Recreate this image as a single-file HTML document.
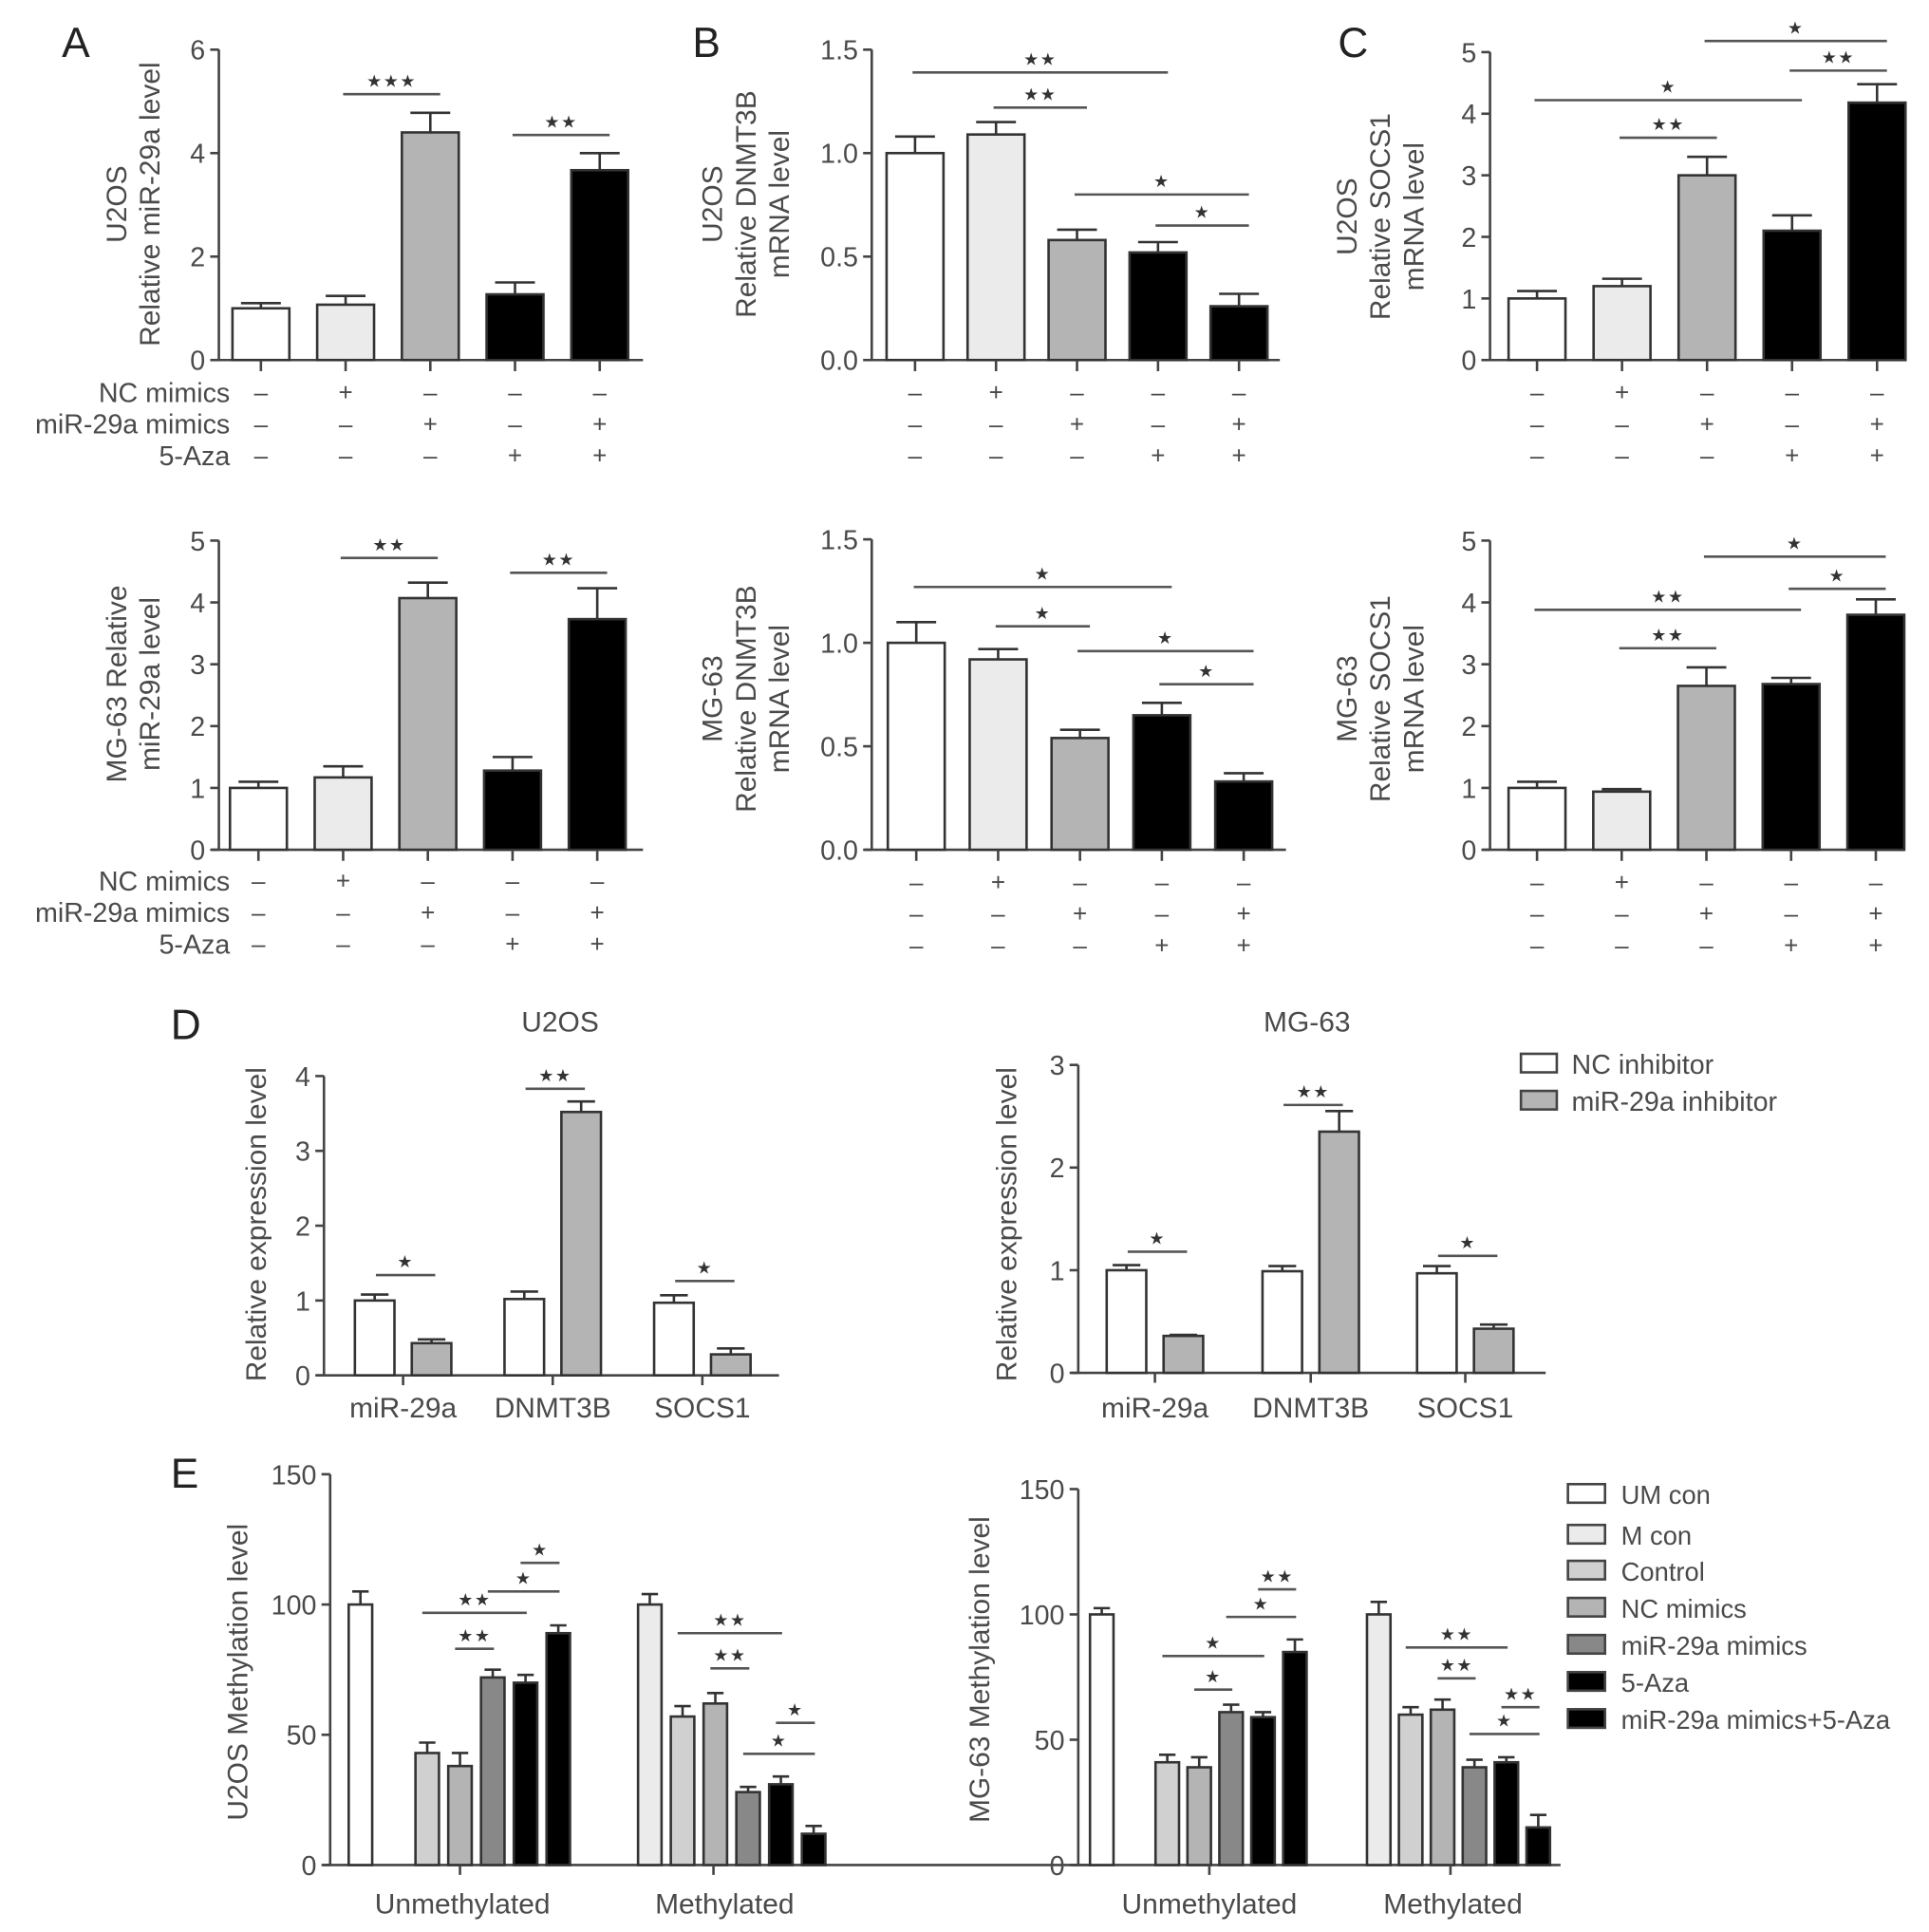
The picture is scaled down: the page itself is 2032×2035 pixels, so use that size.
<!DOCTYPE html>
<html><head><meta charset="utf-8"><style>
html,body{margin:0;padding:0;background:#fff;}
svg{display:block;}
text{font-family:"Liberation Sans",sans-serif;fill:#4a4a4a;}
</style></head>
<body>
<svg id="fig" width="2032" height="2035" viewBox="0 0 1560 1562" xmlns="http://www.w3.org/2000/svg">
<g font-size="34">
<text x="50" y="46" style="fill:#222">A</text>
<text x="560" y="46" style="fill:#222">B</text>
<text x="1082" y="46" style="fill:#222">C</text>
<text x="138" y="840" style="fill:#222">D</text>
<text x="138" y="1203" style="fill:#222">E</text>
</g>
</svg>
<script>
// ---------- DATA ----------
const aTopVals=[1.0,1.07,4.4,1.27,3.67];
const aTopErr=[0.1,0.17,0.38,0.23,0.33];
const aBotVals=[1.0,1.17,4.07,1.28,3.73];
const aBotErr=[0.1,0.18,0.25,0.22,0.5];
const bTopVals=[1.0,1.09,0.58,0.52,0.26];
const bTopErr=[0.08,0.06,0.05,0.05,0.06];
const bBotVals=[1.0,0.92,0.54,0.65,0.33];
const bBotErr=[0.1,0.05,0.04,0.06,0.04];
const cTopVals=[1.0,1.2,3.0,2.1,4.18];
const cTopErr=[0.12,0.12,0.3,0.25,0.3];
const cBotVals=[1.0,0.94,2.65,2.68,3.8];
const cBotErr=[0.1,0.04,0.3,0.1,0.25];
const rowNC="-+---", rowMiR="--+-+", rowAza="---++";
const rowLabels=["NC mimics","miR-29a mimics","5-Aza"];
const ticksA1=[0,2,4,6], ticks5=[0,1,2,3,4,5], ticks15=[0,0.5,1.0,1.5];
const sigATop=[[1,2,5.14,"***"],[3,4,4.35,"**"]];
const sigABot=[[1,2,4.72,"**"],[3,4,4.48,"**"]];
const sigBTop=[[0,3,1.39,"**"],[1,2,1.22,"**"],[2,4,0.80,"*"],[3,4,0.65,"*"]];
const sigBBot=[[0,3,1.27,"*"],[1,2,1.08,"*"],[2,4,0.96,"*"],[3,4,0.80,"*"]];
const sigCTop=[[0,3,4.22,"*"],[1,2,3.61,"**"],[2,4,5.18,"*"],[3,4,4.70,"**"]];
const sigCBot=[[0,3,3.88,"**"],[1,2,3.26,"**"],[2,4,4.74,"*"],[3,4,4.22,"*"]];
// D
const dCats=["miR-29a","DNMT3B","SOCS1"];
const dU2NC=[1.0,1.02,0.97], dU2NCerr=[0.08,0.1,0.1];
const dU2Inh=[0.43,3.52,0.28], dU2InhErr=[0.05,0.14,0.08];
const dMGNC=[1.0,0.99,0.97], dMGNCerr=[0.05,0.05,0.07];
const dMGInh=[0.36,2.35,0.43], dMGInhErr=[0.01,0.2,0.04];
const sigDU2=[1.34,3.83,1.26], sigDU2L=["*","**","*"];
const sigDMG=[1.18,2.61,1.14], sigDMGL=["*","**","*"];
const ticksD4=[0,1,2,3,4], ticksD3=[0,1,2,3];
// E
const eGroups=["Unmethylated","Methylated"];
const eU2Un=[100,43,38,72,70,89], eU2UnErr=[5,4,5,3,3,3];
const eU2Me=[100,57,62,28,31,12], eU2MeErr=[4,4,4,2,3,3];
const eMGUn=[100,41,39,61,59,85], eMGUnErr=[2.5,3,4,3,2,5];
const eMGMe=[100,60,62,39,41,15], eMGMeErr=[5,3,4,3,2,5];
const sigEU2Un=[[1,4,96.8,"**"],[2,3,83,"**"],[3,5,105,"*"],[4,5,116,"*"]];
const sigEU2Me=[[1,4,89,"**"],[2,3,75.5,"**"],[3,5,42.7,"*"],[4,5,54.6,"*"]];
const sigEMGUn=[[1,4,83.4,"*"],[2,3,70,"*"],[3,5,99,"*"],[4,5,110,"**"]];
const sigEMGMe=[[1,4,86.8,"**"],[2,3,74.5,"**"],[3,5,52.3,"*"],[4,5,63,"**"]];
const ticksE=[0,50,100,150];
const eLegend=["UM con","M con","Control","NC mimics","miR-29a mimics","5-Aza","miR-29a mimics+5-Aza"];
const dLegend=["NC inhibitor","miR-29a inhibitor"];

// ---------- DRAW ----------
const NS="http://www.w3.org/2000/svg";
const svg=document.getElementById('fig');
function mk(tag,attrs,parent){const e=document.createElementNS(NS,tag);for(const k in attrs)e.setAttribute(k,attrs[k]);(parent||svg).appendChild(e);return e;}
const AX="#444";
function yScale(y0,yTop,max){return v=>y0-(v/max)*(y0-yTop);}
function axes(g,x0,xEnd,y0,ys,ticks,fmt){
  const yl=mk('line',{x1:x0,y1:y0,x2:x0,y2:ys(ticks[ticks.length-1]),stroke:AX,'stroke-width':2},g);
  
  
  const xl=mk('line',{x1:x0-6,y1:y0,x2:xEnd,y2:y0,stroke:AX,'stroke-width':2},g);
  
  
  ticks.forEach(t=>{
    mk('line',{x1:x0-7,y1:ys(t),x2:x0,y2:ys(t),stroke:AX,'stroke-width':2},g);
    const tx=mk('text',{x:x0-11,y:ys(t)+8,'text-anchor':'end','font-size':22},g);
    tx.textContent=fmt?fmt(t):t;
    
    
  });
}
function bar(g,cx,w,v,err,ys,y0,fill){
  const top=ys(v);
  const et=ys(v+err);
  mk('line',{x1:cx,y1:top,x2:cx,y2:et,stroke:'#333','stroke-width':2},g);
  mk('line',{x1:cx-w*0.35,y1:et,x2:cx+w*0.35,y2:et,stroke:'#333','stroke-width':2},g);
  const r=mk('rect',{x:cx-w/2,y:top,width:w,height:y0-top,fill:fill,stroke:'#333','stroke-width':2},g);
  
  
}
function sig(g,xa,xb,y,label,fs){
  const l=mk('line',{x1:xa,y1:y,x2:xb,y2:y,stroke:'#555','stroke-width':2},g);
  
  
  const t=mk('text',{x:(xa+xb)/2,y:y-6,'text-anchor':'middle','font-size':fs||14,'letter-spacing':'1'},g);
  t.textContent=label.replace(/\*/g,'★');
  t.style.fill='#333';
  
  
}
function ytitle(g,x,y,lines){
  lines.forEach((s,i)=>{
    const t=mk('text',{x:0,y:0,'text-anchor':'middle','font-size':23,transform:`translate(${x+i*27},${y}) rotate(-90)`},g);
    t.textContent=s;
    
    
  });
}
const colsABC=['#fff','#ebebeb','#b4b4b4','#000','#000'];
function panelABC(name,x0,xEnd,y0,yTop,max,ticks,fmt,start,step,vals,errs,sigs,rowY,showLabels,titleX,titleY,titleLines){
  const g=mk('g',{});
  
  
  const ys=yScale(y0,yTop,max);
  axes(g,x0,xEnd,y0,ys,ticks,fmt);
  const cx=i=>start+step*i;
  vals.forEach((v,i)=>{
    bar(g,cx(i),46,v,errs[i],ys,y0,colsABC[i]);
    mk('line',{x1:cx(i),y1:y0,x2:cx(i),y2:y0+9,stroke:AX,'stroke-width':2},g);
  });
  sigs.forEach(s=>sig(g,cx(s[0])-2,cx(s[1])+8,ys(s[2]),s[3]));
  [rowNC,rowMiR,rowAza].forEach((row,r)=>{
    const yy=rowY+r*25.5;
    if(showLabels){
      const t=mk('text',{x:186,y:yy+8,'text-anchor':'end','font-size':22},g);
      t.textContent=rowLabels[r];
      
      
    }
    for(let i=0;i<row.length;i++){
      const t=mk('text',{x:cx(i),y:yy+7,'text-anchor':'middle','font-size':20},g);
      t.textContent=row[i]==='+'?'+':'–';
      
      
    }
  });
  ytitle(g,titleX,titleY,titleLines);
}
const f1=t=>t.toFixed(1);
panelABC('panel-a-u2os',177,520,291,40,6,ticksA1,null,211,68.5,aTopVals,aTopErr,sigATop,317,true,102,165,["U2OS","Relative miR-29a level"]);
panelABC('panel-a-mg63',177,520,687,437,5,ticks5,null,209,68.5,aBotVals,aBotErr,sigABot,712,true,102,553,["MG-63 Relative","miR-29a level"]);
panelABC('panel-b-u2os',705,1035,291,40,1.5,ticks15,f1,740,65.5,bTopVals,bTopErr,sigBTop,317,false,584,165,["U2OS","Relative DNMT3B","mRNA level"]);
panelABC('panel-b-mg63',705,1040,687,436,1.5,ticks15,f1,741,66.2,bBotVals,bBotErr,sigBBot,713,false,584,565,["MG-63","Relative DNMT3B","mRNA level"]);
panelABC('panel-c-u2os',1205,1540,291,42,5,ticks5,null,1243,68.75,cTopVals,cTopErr,sigCTop,317,false,1097,175,["U2OS","Relative SOCS1","mRNA level"]);
panelABC('panel-c-mg63',1205,1540,687,437,5,ticks5,null,1243,68.5,cBotVals,cBotErr,sigCBot,713,false,1097,565,["MG-63","Relative SOCS1","mRNA level"]);

// D
function panelD(name,title,titleX,x0,xEnd,y0,yTop,max,ticks,centers,nc,ncE,inh,inhE,sg,sgl,ytx){
  const g=mk('g',{});
  
  
  const ys=yScale(y0,yTop,max);
  axes(g,x0,xEnd,y0,ys,ticks);
  const tt=mk('text',{x:titleX,y:834,'text-anchor':'middle','font-size':23},g);
  tt.textContent=title;
  
  
  dCats.forEach((c,i)=>{
    const cx=centers[i];
    bar(g,cx-23,32,nc[i],ncE[i],ys,y0,'#fff');
    bar(g,cx+23,32,inh[i],inhE[i],ys,y0,'#b4b4b4');
    mk('line',{x1:cx,y1:y0,x2:cx,y2:y0+8,stroke:AX,'stroke-width':2},g);
    const t=mk('text',{x:cx,y:1146,'text-anchor':'middle','font-size':23},g);
    t.textContent=c;
    
    
    sig(g,cx-22,cx+26,ys(sg[i]),sgl[i]);
  });
  ytitle(g,ytx,990,["Relative expression level"]);
}
panelD('panel-d-u2os','U2OS',453,262,630,1112,870,4,ticksD4,[326,447,568],dU2NC,dU2NCerr,dU2Inh,dU2InhErr,sigDU2,sigDU2L,215);
panelD('panel-d-mg63','MG-63',1057,872,1250,1110,861,3,ticksD3,[934,1060,1185],dMGNC,dMGNCerr,dMGInh,dMGInhErr,sigDMG,sigDMGL,822);
// D legend
const colsD=['#fff','#b4b4b4'];
dLegend.forEach((s,i)=>{
  const r=mk('rect',{x:1230,y:852+i*30,width:29,height:15,fill:colsD[i],stroke:'#444','stroke-width':2});
  
  
  const t=mk('text',{x:1271,y:868+i*30,'font-size':22});
  t.textContent=s;
  
  
});

// E
const colsEU=['#fff','#d0d0d0','#b4b4b4','#888','#000','#000'];
const colsEM=['#ebebeb','#d0d0d0','#b4b4b4','#888','#000','#000'];
function panelE(name,x0,xEnd,y0,yTop,first,uStart,mStart,step,un,unE,me,meE,sU,sM,ytx,labU,labM,tickU,tickM){
  const g=mk('g',{});
  
  
  const ys=yScale(y0,yTop,150);
  axes(g,x0,xEnd,y0,ys,ticksE);
  const ux=i=>i===0?first:uStart+step*(i-1);
  const mx=i=>mStart+step*i;
  un.forEach((v,i)=>bar(g,ux(i),19,v,unE[i],ys,y0,colsEU[i]));
  me.forEach((v,i)=>bar(g,mx(i),19,v,meE[i],ys,y0,colsEM[i]));
  sU.forEach(s=>sig(g,ux(s[0])-4,ux(s[1])+1,ys(s[2]),s[3]));
  sM.forEach(s=>sig(g,mx(s[0])-4,mx(s[1])+1,ys(s[2]),s[3]));
  [[tickU,labU,eGroups[0]],[tickM,labM,eGroups[1]]].forEach(a=>{
    mk('line',{x1:a[0],y1:y0,x2:a[0],y2:y0+8,stroke:AX,'stroke-width':2},g);
    const t=mk('text',{x:a[1],y:1547,'text-anchor':'middle','font-size':23},g);
    t.textContent=a[2];
    
    
  });
  return g;
}
const gE1=panelE('panel-e-u2os',267,888,1508,1192,291.5,345.5,525.5,26.5,eU2Un,eU2UnErr,eU2Me,eU2MeErr,sigEU2Un,sigEU2Me,0,374,586,372,577);
ytitle(gE1,200,1352,["U2OS Methylation level"]);
const gE2=panelE('panel-e-mg63',872,1262,1508,1204,891,944,1115,25.8,eMGUn,eMGUnErr,eMGMe,eMGMeErr,sigEMGUn,sigEMGMe,0,978,1175,978,1173);
ytitle(gE2,800,1350,["MG-63  Methylation level"]);
const colsEL=['#fff','#ebebeb','#d0d0d0','#b4b4b4','#888','#000','#000'];
const eLegY=[1200,1233,1262,1292,1322,1352,1382];
eLegend.forEach((s,i)=>{
  const r=mk('rect',{x:1268,y:eLegY[i],width:30,height:15,fill:colsEL[i],stroke:'#444','stroke-width':2});
  
  
  const t=mk('text',{x:1311,y:eLegY[i]+16,'font-size':21});
  t.textContent=s;
  
  
});
</script>
</body></html>
